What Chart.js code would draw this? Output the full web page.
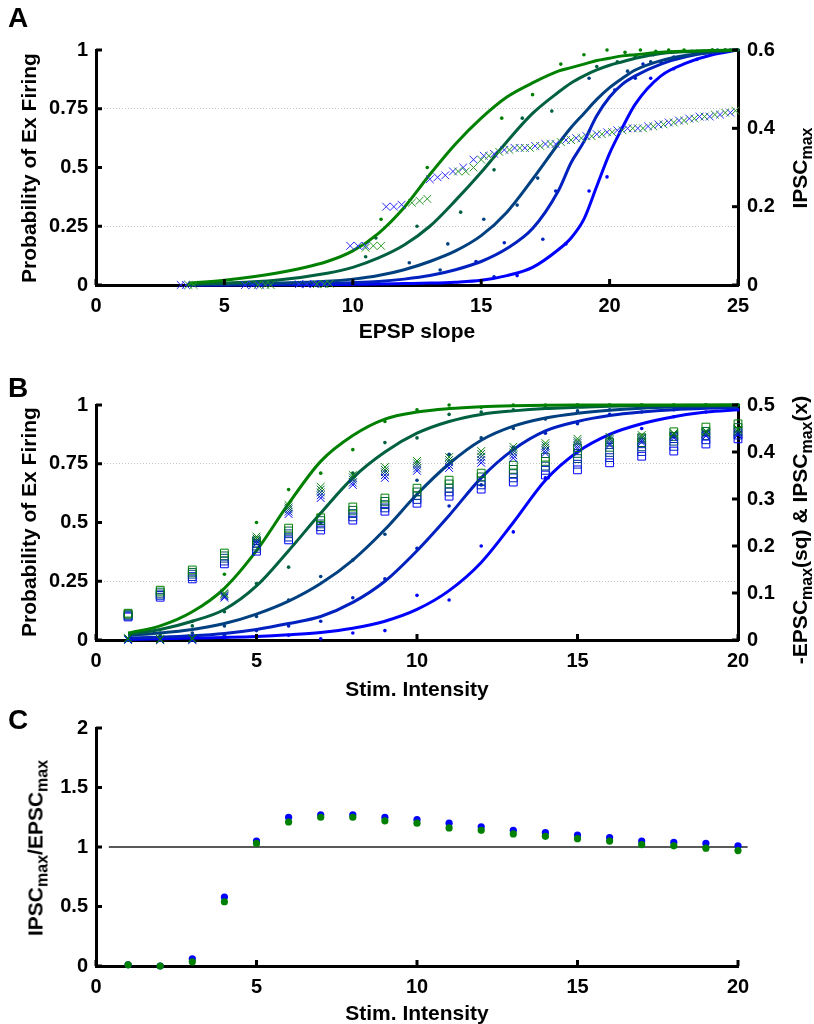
<!DOCTYPE html>
<html>
<head>
<meta charset="utf-8">
<script src="https://cdn.jsdelivr.net/npm/chart.js@4.4.0/dist/chart.umd.min.js"></script>
<style>
  body { margin: 0; background: #fff; width: 814px; height: 1024px; position: relative; overflow: hidden;
         font-family: Arial, "Liberation Sans", Helvetica, sans-serif; font-weight: bold; color: #000; }
  .panel { position: absolute; left: 0; width: 814px; }
  .letter { position: absolute; font-size: 28px; line-height: 28px; }
  .ttl { position: absolute; font-size: 21px; line-height: 21px; white-space: nowrap; transform: translate(-50%, -50%); }
  .ttl.rot { transform: translate(-50%, -50%) rotate(-90deg); }
  .ttl sub { font-size: 16px; line-height: 0; vertical-align: -5px; }
</style>
</head>
<body>
<div class="panel" style="top:0;height:340px"><canvas id="chartA" width="814" height="340"></canvas></div>
<div class="panel" style="top:340px;height:350px"><canvas id="chartB" width="814" height="350"></canvas></div>
<div class="panel" style="top:690px;height:334px"><canvas id="chartC" width="814" height="334"></canvas></div>

<div class="letter" style="left:8px;top:4px">A</div>
<div class="ttl rot" style="left:28px;top:168px">Probability of Ex Firing</div>
<div class="ttl" style="left:417px;top:330px">EPSP slope</div>
<div class="ttl rot" style="left:799px;top:168px">IPSC<sub>max</sub></div>

<div class="letter" style="left:8px;top:374px">B</div>
<div class="ttl rot" style="left:28px;top:522px">Probability of Ex Firing</div>
<div class="ttl" style="left:417px;top:688px">Stim. Intensity</div>
<div class="ttl rot" style="left:799px;top:530px">-EPSC<sub>max</sub>(sq) &amp; IPSC<sub>max</sub>(x)</div>

<div class="letter" style="left:8px;top:706px">C</div>
<div class="ttl rot" style="left:35px;top:848px">IPSC<sub>max</sub>/EPSC<sub>max</sub></div>
<div class="ttl" style="left:417px;top:1012px">Stim. Intensity</div>

<script>
// colour ramp from the first (green) to the fifth (blue) condition
const condColors = ['#008000', '#006040', '#004080', '#0020bf', '#0000ff'];

// ---- A: firing probability vs EPSP slope ----
const fitSlopeA = [3.6, 5, 7, 9, 10, 11, 12, 13, 14, 15, 16, 17, 18, 18.5, 19, 19.5, 20, 20.5, 21, 22, 23, 24, 25];
const fitA1 = [0.008, 0.02, 0.05, 0.10, 0.145, 0.22, 0.33, 0.47, 0.60, 0.71, 0.80, 0.86, 0.91, 0.925, 0.94, 0.955, 0.965, 0.975, 0.98, 0.99, 0.995, 0.998, 1.0];
const fitA2 = [0.004, 0.008, 0.02, 0.05, 0.075, 0.115, 0.17, 0.25, 0.36, 0.48, 0.61, 0.73, 0.82, 0.86, 0.89, 0.915, 0.935, 0.95, 0.965, 0.985, 0.993, 0.997, 1.0];
const fitA3 = [0.002, 0.004, 0.008, 0.016, 0.025, 0.04, 0.065, 0.10, 0.145, 0.21, 0.31, 0.45, 0.60, 0.67, 0.73, 0.79, 0.84, 0.88, 0.915, 0.955, 0.978, 0.99, 1.0];
const fitA4 = [0.001, 0.002, 0.004, 0.007, 0.01, 0.015, 0.025, 0.04, 0.065, 0.10, 0.155, 0.24, 0.40, 0.52, 0.61, 0.72, 0.80, 0.855, 0.89, 0.94, 0.972, 0.99, 1.0];
const fitA5 = [0.0, 0.0, 0.001, 0.002, 0.003, 0.004, 0.006, 0.008, 0.012, 0.02, 0.04, 0.075, 0.15, 0.20, 0.28, 0.42, 0.56, 0.67, 0.77, 0.89, 0.945, 0.98, 1.0];

const dotSlopeA1 = [11.1, 12.9, 15.8, 17.0, 18.1, 19.0, 19.9, 20.6, 21.2, 21.8, 22.3, 22.9, 23.4, 24.0, 24.5, 25.0];
const dotProbA1 = [0.28, 0.50, 0.71, 0.81, 0.94, 0.98, 1.0, 0.99, 1.0, 0.995, 1.0, 1.0, 0.995, 1.0, 1.0, 1.0];
const dotSlopeA2 = [10.5, 10.9, 12.5, 14.2, 15.5, 16.6, 17.75, 19.5, 20.3, 21.0, 21.7, 22.4, 23.2, 24.0, 24.7];
const dotProbA2 = [0.12, 0.20, 0.25, 0.31, 0.49, 0.71, 0.74, 0.93, 0.95, 0.97, 0.98, 0.99, 0.995, 1.0, 1.0];
const dotSlopeA3 = [12.2, 13.4, 13.7, 15.1, 16.4, 17.2, 19.2, 20.7, 21.6, 22.5, 23.3, 24.2];
const dotProbA3 = [0.095, 0.064, 0.175, 0.28, 0.34, 0.455, 0.88, 0.91, 0.95, 0.97, 0.99, 1.0];
const dotSlopeA4 = [14.8, 15.5, 15.9, 17.4, 17.9, 20.2, 21.0, 21.3, 22.0, 22.8, 23.6, 24.5];
const dotProbA4 = [0.10, 0.035, 0.18, 0.195, 0.40, 0.83, 0.88, 0.94, 0.95, 0.97, 0.99, 1.0];
const dotSlopeA5 = [16.4, 18.3, 19.2, 19.9, 21.6, 22.5, 23.4, 24.3, 25.0];
const dotProbA5 = [0.04, 0.175, 0.40, 0.46, 0.88, 0.92, 0.96, 0.99, 1.0];

// IPSCmax (right axis) against EPSP slope
const ipscSlopeBlue = [3.3, 3.5, 5.8, 6.1, 6.4, 7.9, 8.2, 8.5, 8.8, 9.9, 10.2, 10.5, 11.3, 11.6, 11.9, 13.0, 13.3, 13.6, 13.9, 14.3, 14.7, 15.1, 15.5, 15.9, 16.3, 16.7, 17.1, 17.5, 17.9, 18.3, 18.7, 19.1, 19.5, 19.9, 20.3, 20.7, 21.1, 21.5, 21.9, 22.3, 22.7, 23.1, 23.5, 23.9, 24.3, 24.7];
const ipscBlue = [0, 0, 0, 0, 0, 0.002, 0.002, 0.003, 0.003, 0.10, 0.10, 0.10, 0.20, 0.20, 0.205, 0.27, 0.275, 0.28, 0.29, 0.30, 0.32, 0.33, 0.335, 0.345, 0.35, 0.35, 0.355, 0.36, 0.36, 0.37, 0.375, 0.38, 0.385, 0.39, 0.395, 0.40, 0.40, 0.405, 0.41, 0.415, 0.42, 0.425, 0.43, 0.43, 0.435, 0.44];
const ipscSlopeGreen = [3.6, 3.8, 6.3, 6.6, 6.8, 8.6, 8.9, 9.1, 10.5, 10.8, 11.1, 12.3, 12.6, 12.9, 14.1, 14.4, 14.7, 15.0, 15.3, 15.7, 16.1, 16.5, 16.9, 17.3, 17.7, 18.1, 18.5, 18.9, 19.3, 19.7, 20.1, 20.5, 20.9, 21.3, 21.7, 22.1, 22.5, 22.9, 23.3, 23.7, 24.1, 24.5, 24.9];
const ipscGreen = [0, 0, 0, 0, 0, 0.002, 0.002, 0.003, 0.095, 0.10, 0.10, 0.21, 0.215, 0.22, 0.29, 0.29, 0.30, 0.32, 0.33, 0.34, 0.345, 0.35, 0.35, 0.355, 0.36, 0.365, 0.37, 0.375, 0.38, 0.385, 0.39, 0.395, 0.40, 0.40, 0.405, 0.41, 0.415, 0.42, 0.425, 0.43, 0.435, 0.44, 0.445];

// ---- B: firing probability vs stimulus intensity ----
const stim = [1, 2, 3, 4, 5, 6, 7, 8, 9, 10, 11, 12, 13, 14, 15, 16, 17, 18, 19, 20];
const fitB1 = [0.03, 0.06, 0.12, 0.22, 0.38, 0.58, 0.76, 0.87, 0.94, 0.97, 0.985, 0.993, 0.997, 0.999, 1, 1, 1, 1, 1, 1];
const fitB2 = [0.025, 0.045, 0.08, 0.13, 0.23, 0.38, 0.54, 0.69, 0.80, 0.88, 0.93, 0.96, 0.975, 0.985, 0.99, 0.995, 0.997, 0.998, 0.999, 1.0];
const fitB3 = [0.02, 0.03, 0.045, 0.07, 0.11, 0.165, 0.24, 0.34, 0.47, 0.62, 0.75, 0.85, 0.91, 0.945, 0.965, 0.978, 0.986, 0.991, 0.994, 0.996];
const fitB4 = [0.008, 0.012, 0.018, 0.028, 0.045, 0.07, 0.10, 0.16, 0.25, 0.38, 0.53, 0.69, 0.81, 0.89, 0.93, 0.955, 0.97, 0.98, 0.986, 0.99];
const fitB5 = [0.003, 0.005, 0.008, 0.011, 0.015, 0.022, 0.032, 0.05, 0.08, 0.13, 0.21, 0.33, 0.50, 0.68, 0.80, 0.875, 0.92, 0.95, 0.97, 0.98];

const dotB1 = [0.0, 0.02, 0.08, 0.28, 0.50, 0.64, 0.71, 0.81, 0.93, 0.98, 1.0, 0.99, 1.0, 1.0, 1.0, 1.0, 1.0, 1.0, 1.0, 1.0];
const dotB2 = [0.0, 0.03, 0.06, 0.12, 0.24, 0.31, 0.50, 0.71, 0.84, 0.86, 0.96, 0.97, 0.98, 0.99, 1.0, 1.0, 1.0, 1.0, 1.0, 1.0];
const dotB3 = [0.0, 0.01, 0.03, 0.06, 0.10, 0.17, 0.27, 0.34, 0.45, 0.68, 0.79, 0.86, 0.90, 0.94, 0.975, 0.98, 0.99, 0.99, 1.0, 1.0];
const dotB4 = [0.0, 0.0, 0.01, 0.02, 0.04, 0.06, 0.08, 0.18, 0.26, 0.39, 0.57, 0.66, 0.82, 0.88, 0.92, 0.96, 0.97, 0.98, 0.99, 1.0];
const dotB5 = [0.0, 0.0, 0.0, 0.01, 0.01, 0.02, 0.005, 0.03, 0.04, 0.19, 0.17, 0.40, 0.46, 0.69, 0.80, 0.86, 0.90, 0.95, 0.97, 0.98];

// -EPSCmax (squares, right axis)
const epscB1 = [0.057, 0.106, 0.149, 0.185, 0.211, 0.238, 0.260, 0.283, 0.302, 0.323, 0.340, 0.355, 0.372, 0.389, 0.409, 0.421, 0.430, 0.443, 0.453, 0.460];
const epscB2 = [0.055, 0.102, 0.144, 0.179, 0.206, 0.232, 0.254, 0.276, 0.295, 0.315, 0.332, 0.347, 0.363, 0.380, 0.397, 0.410, 0.420, 0.433, 0.444, 0.452];
const epscB3 = [0.053, 0.098, 0.140, 0.174, 0.200, 0.226, 0.247, 0.269, 0.288, 0.307, 0.323, 0.338, 0.354, 0.370, 0.386, 0.399, 0.411, 0.423, 0.435, 0.444];
const epscB4 = [0.051, 0.095, 0.135, 0.168, 0.195, 0.219, 0.241, 0.262, 0.281, 0.299, 0.315, 0.330, 0.345, 0.361, 0.374, 0.388, 0.401, 0.412, 0.426, 0.436];
const epscB5 = [0.049, 0.091, 0.130, 0.162, 0.189, 0.213, 0.234, 0.255, 0.274, 0.291, 0.306, 0.321, 0.336, 0.351, 0.362, 0.377, 0.391, 0.402, 0.417, 0.428];

// IPSCmax (crosses, right axis)
const ipscB1 = [0.004, 0.002, 0.004, 0.100, 0.220, 0.287, 0.326, 0.351, 0.368, 0.381, 0.389, 0.402, 0.411, 0.419, 0.428, 0.432, 0.436, 0.440, 0.445, 0.449];
const ipscB2 = [0.003, 0.001, 0.003, 0.098, 0.216, 0.282, 0.320, 0.346, 0.362, 0.376, 0.383, 0.396, 0.405, 0.414, 0.423, 0.428, 0.432, 0.438, 0.442, 0.446];
const ipscB3 = [0.002, 0.001, 0.002, 0.095, 0.212, 0.278, 0.314, 0.341, 0.357, 0.371, 0.378, 0.390, 0.399, 0.409, 0.419, 0.424, 0.429, 0.435, 0.440, 0.443];
const ipscB4 = [0.001, 0.0, 0.001, 0.093, 0.209, 0.273, 0.308, 0.335, 0.351, 0.365, 0.372, 0.383, 0.393, 0.403, 0.414, 0.419, 0.425, 0.433, 0.437, 0.439];
const ipscB5 = [0.0, 0.0, 0.0, 0.090, 0.205, 0.268, 0.302, 0.330, 0.345, 0.360, 0.366, 0.377, 0.387, 0.398, 0.409, 0.415, 0.421, 0.430, 0.434, 0.436];

// ---- C: IPSCmax / EPSCmax ratio ----
const ratioBlue = [0.01, 0.0, 0.06, 0.58, 1.05, 1.25, 1.27, 1.27, 1.25, 1.23, 1.20, 1.17, 1.14, 1.12, 1.10, 1.08, 1.05, 1.04, 1.03, 1.01];
const ratioGreen = [0.01, 0.0, 0.035, 0.54, 1.03, 1.21, 1.25, 1.25, 1.22, 1.20, 1.16, 1.14, 1.11, 1.09, 1.07, 1.05, 1.02, 1.01, 0.99, 0.97];
const unityX = [0.4, 20.3];
const unityY = [1, 1];

const FONT_FAMILY = 'Arial, "Liberation Sans", Helvetica, sans-serif';
const tickFont = { family: FONT_FAMILY, size: 20, weight: 'bold' };

function fmt(v) { return String(Number(Number(v).toFixed(3))); }
function toPoints(xs, ys) { return xs.map((x, i) => ({ x: x, y: ys[i] })); }

function fitLine(xs, ys, color, yAxisID) {
  return { type: 'line', data: toPoints(xs, ys), yAxisID: yAxisID || 'y', borderColor: color, borderWidth: 3,
           pointRadius: 0, fill: false, cubicInterpolationMode: 'monotone', order: 2, clip: false };
}
function dots(xs, ys, color, radius, order) {
  return { type: 'scatter', data: toPoints(xs, ys), yAxisID: 'y', backgroundColor: color, borderColor: color,
           borderWidth: 0, pointRadius: radius, order: order, clip: false };
}
function markers(xs, ys, color, style, order) {
  return { type: 'scatter', data: toPoints(xs, ys), yAxisID: 'y2', pointStyle: style, pointRadius: 5.5,
           borderColor: color, backgroundColor: 'rgba(0,0,0,0)', borderWidth: 1, order: order, clip: false };
}

function gridAt(values) {
  return c => (c.tick && values.includes(c.tick.value)) ? '#c4c4c4' : 'rgba(0,0,0,0)';
}
function xAxis(max, height) {
  return {
    type: 'linear', min: 0, max: max,
    ticks: { stepSize: 5, font: tickFont, color: '#000', padding: 9, maxRotation: 0, callback: fmt },
    grid: { display: false, drawTicks: false },
    border: { color: '#000', width: 3 },
    afterFit: s => { s.height = height; }
  };
}
function yAxis(position, max, step, width, gridValues) {
  return {
    type: 'linear', position: position, min: 0, max: max,
    ticks: { stepSize: step, font: tickFont, color: '#000', padding: position === 'left' ? 8 : 9, callback: fmt },
    grid: gridValues ? { color: gridAt(gridValues), lineWidth: 1, drawTicks: false } : { display: false, drawTicks: false },
    border: { color: '#000', width: 3, dash: [1, 2] },
    afterFit: s => { s.width = width; }
  };
}

// short tick marks pointing into the plot
const innerTicks = {
  id: 'innerTicks',
  afterDraw(chart) {
    const ctx = chart.ctx;
    const a = chart.chartArea;
    ctx.save();
    ctx.strokeStyle = '#000';
    ctx.lineWidth = 3;
    Object.values(chart.scales).forEach(s => {
      s.ticks.forEach(t => {
        const p = s.getPixelForValue(t.value);
        ctx.beginPath();
        if (s.axis === 'x') { ctx.moveTo(p, a.bottom); ctx.lineTo(p, a.bottom - 6); }
        else if (s.position === 'left') { ctx.moveTo(a.left, p); ctx.lineTo(a.left + 6, p); }
        else { ctx.moveTo(a.right, p); ctx.lineTo(a.right - 6, p); }
        ctx.stroke();
      });
    });
    ctx.restore();
  }
};

const baseOptions = {
  responsive: false,
  animation: false,
  events: [],
  plugins: { legend: { display: false }, tooltip: { enabled: false } }
};

// panel A
const fitsA = [fitA1, fitA2, fitA3, fitA4, fitA5];
const dotXA = [dotSlopeA1, dotSlopeA2, dotSlopeA3, dotSlopeA4, dotSlopeA5];
const dotYA = [dotProbA1, dotProbA2, dotProbA3, dotProbA4, dotProbA5];
const setsA = [
  markers(ipscSlopeGreen, ipscGreen, '#2a9a2a', 'crossRot', 0),
  markers(ipscSlopeBlue, ipscBlue, '#2b2bff', 'crossRot', 0)
];
fitsA.forEach((f, i) => setsA.push(fitLine(fitSlopeA, f, condColors[i])));
dotXA.forEach((xs, i) => setsA.push(dots(xs, dotYA[i], condColors[i], 1.8, 3)));

new Chart(document.getElementById('chartA'), {
  type: 'scatter',
  data: { datasets: setsA },
  options: Object.assign({}, baseOptions, {
    layout: { padding: { top: 50, left: 0, right: 0, bottom: 0 } },
    scales: {
      x: xAxis(25, 55),
      y: yAxis('left', 1, 0.25, 96, [0.25, 0.75]),
      y2: yAxis('right', 0.6, 0.2, 76, null)
    }
  }),
  plugins: [innerTicks]
});

// panel B
const fitsB = [fitB1, fitB2, fitB3, fitB4, fitB5];
const dotsB = [dotB1, dotB2, dotB3, dotB4, dotB5];
const epscB = [epscB1, epscB2, epscB3, epscB4, epscB5];
const ipscB = [ipscB1, ipscB2, ipscB3, ipscB4, ipscB5];
const setsB = [];
ipscB.forEach((v, i) => setsB.push(markers(stim, v, condColors[i], 'crossRot', 0)));
epscB.forEach((v, i) => setsB.push(markers(stim, v, condColors[i], 'rect', 1)));
fitsB.forEach((f, i) => setsB.push(fitLine(stim, f, condColors[i])));
dotsB.forEach((v, i) => setsB.push(dots(stim, v, condColors[i], 1.8, 3)));

new Chart(document.getElementById('chartB'), {
  type: 'scatter',
  data: { datasets: setsB },
  options: Object.assign({}, baseOptions, {
    layout: { padding: { top: 65, left: 0, right: 0, bottom: 0 } },
    scales: {
      x: xAxis(20, 50),
      y: yAxis('left', 1, 0.25, 96, [0.25, 0.75]),
      y2: yAxis('right', 0.5, 0.1, 76, null)
    }
  }),
  plugins: [innerTicks]
});

// panel C
new Chart(document.getElementById('chartC'), {
  type: 'scatter',
  data: {
    datasets: [
      dots(stim, ratioGreen, '#008000', 3.6, 0),
      dots(stim, ratioBlue, '#0000ff', 3.6, 1),
      { type: 'line', data: toPoints(unityX, unityY), borderColor: '#222', borderWidth: 1.5, pointRadius: 0, order: 5, clip: false }
    ]
  },
  options: Object.assign({}, baseOptions, {
    layout: { padding: { top: 38, left: 0, right: 76, bottom: 0 } },
    scales: {
      x: xAxis(20, 58),
      y: yAxis('left', 2, 0.5, 96, null)
    }
  }),
  plugins: [innerTicks]
});
</script>
</body>
